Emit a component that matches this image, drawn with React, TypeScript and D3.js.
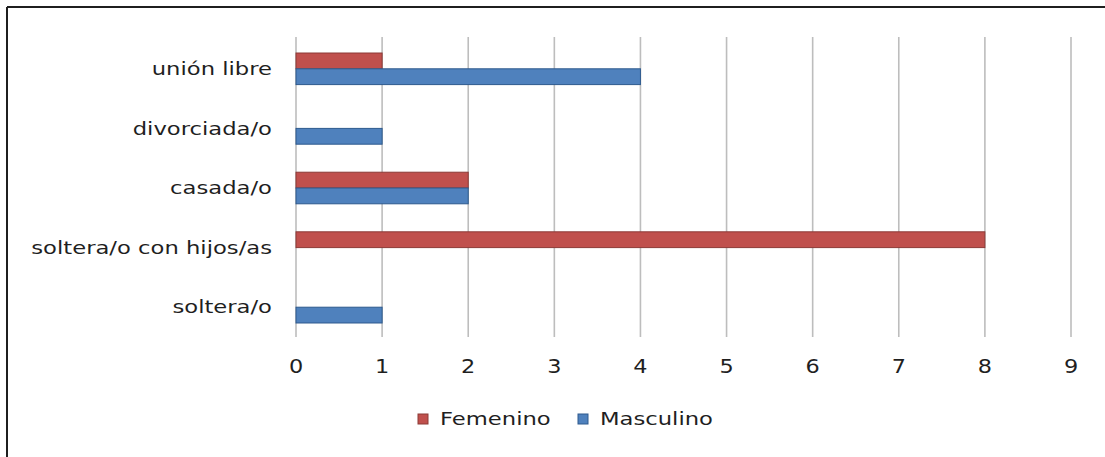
import React from "react";
import * as d3 from "d3";

// Marital status categories, listed bottom to top as drawn
const categories = [
  "soltera/o",
  "soltera/o con hijos/as",
  "casada/o",
  "divorciada/o",
  "unión libre",
];
const femenino = [0, 8, 2, 0, 1];
const masculino = [1, 0, 2, 1, 4];
const seriesNames = ["Femenino", "Masculino"];
const xTicks = [0, 1, 2, 3, 4, 5, 6, 7, 8, 9];

const W = 1105;
const H = 457;
const plot = { left: 296, right: 1071, top: 39, bottom: 337 };
const colors = { Femenino: "#C0504D", Masculino: "#4F81BD" };
const strokes = { Femenino: "#8C3A37", Masculino: "#2E5A8E" };
const FONT = "'DejaVu Sans', Verdana, sans-serif";
const TEXT = "#1f1f1f";

function StretchText({ x, y, anchor, children, size = 18, stretch = 1.26 }) {
  return (
    <g transform={`translate(${x},${y}) scale(${stretch},1)`}>
      <text
        textAnchor={anchor}
        dominantBaseline="central"
        fontFamily={FONT}
        fontSize={size}
        fill={TEXT}
      >
        {children}
      </text>
    </g>
  );
}

export default function App() {
  const x = d3.scaleLinear().domain([0, 9]).range([plot.left, plot.right]);
  // top-to-bottom order so the first category sits at the bottom
  const y = d3
    .scaleBand()
    .domain([...categories].reverse())
    .range([plot.top, plot.bottom])
    .paddingInner(0.47)
    .paddingOuter(0.235);
  const inner = d3
    .scaleBand()
    .domain(seriesNames)
    .range([0, y.bandwidth()]);

  const rows = categories.map((c, i) => ({
    cat: c,
    Femenino: femenino[i],
    Masculino: masculino[i],
  }));

  return (
    <svg
      width={W}
      height={H}
      style={{ position: "absolute", left: 0, top: 0, background: "#fff" }}
    >
      <rect x={0} y={0} width={W} height={H} fill="#fff" />
      {/* frame */}
      <line x1={7} y1={7} x2={W} y2={7} stroke="#1f1f1f" strokeWidth={2} />
      <line x1={7} y1={7} x2={7} y2={H} stroke="#1f1f1f" strokeWidth={2} />

      {/* vertical gridlines */}
      {xTicks.map((t) => (
        <line
          key={t}
          x1={x(t)}
          x2={x(t)}
          y1={37}
          y2={plot.bottom}
          stroke="#bdbdbd"
          strokeWidth={1.6}
        />
      ))}

      {/* bars */}
      {rows.map((r) =>
        seriesNames.map((s) =>
          r[s] > 0 ? (
            <rect
              key={r.cat + s}
              x={x(0)}
              y={y(r.cat) + inner(s)}
              width={x(r[s]) - x(0)}
              height={inner.bandwidth()}
              fill={colors[s]}
              stroke={strokes[s]}
              strokeWidth={1}
            />
          ) : null
        )
      )}

      {/* category labels */}
      {categories.map((c) => (
        <StretchText
          key={c}
          x={272}
          y={y(c) + y.bandwidth() / 2}
          anchor="end"
        >
          {c}
        </StretchText>
      ))}

      {/* x tick labels */}
      {xTicks.map((t) => (
        <StretchText
          key={t}
          x={x(t)}
          y={366}
          anchor="middle"
          size={20}
          stretch={1.12}
        >
          {String(t)}
        </StretchText>
      ))}

      {/* legend */}
      {seriesNames.map((s, i) => {
        const lx = i === 0 ? 418 : 578;
        return (
          <g key={s}>
            <rect
              x={lx}
              y={414}
              width={10}
              height={10}
              fill={colors[s]}
              stroke={strokes[s]}
              strokeWidth={1}
            />
            <StretchText x={lx + 22} y={419} anchor="start">
              {s}
            </StretchText>
          </g>
        );
      })}
    </svg>
  );
}
